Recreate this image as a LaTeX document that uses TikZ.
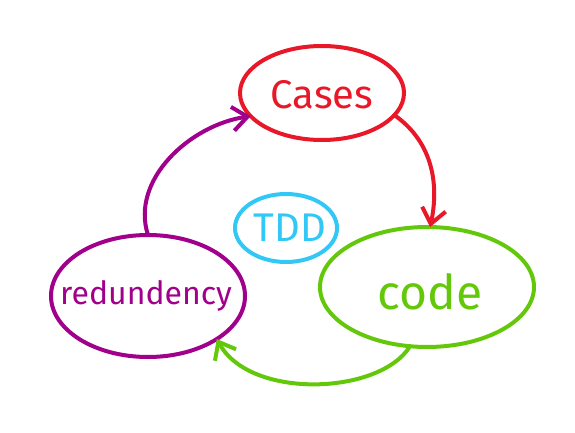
\documentclass[tikz,border=0pt]{standalone}
\usepackage{fontspec}
\setmainfont{Fira Sans}
\usetikzlibrary{arrows.meta,shapes.geometric}
\definecolor{cred}{RGB}{232,24,40}
\definecolor{cgreen}{RGB}{100,200,10}
\definecolor{cpurple}{RGB}{160,0,140}
\definecolor{ccyan}{RGB}{50,200,245}
\tikzset{
  blob/.style={draw, ellipse, line width=4pt, inner sep=0pt, outer sep=0pt},
  flow/.style={line width=4pt, line cap=round, line join=round, -{Straight Barb[length=15pt,width=24pt,line width=4pt]}},
  lbl/.style={font=\fontsize{#1}{#1}\selectfont},
}
\begin{document}
\begin{tikzpicture}[x=1pt,y=-1pt]
\useasboundingbox (0,0) rectangle (575,433);
\node[blob, cred, minimum width=164pt, minimum height=94pt] (cases) at (322,93) {};
\node[blob, ccyan, minimum width=102pt, minimum height=68pt] (tdd) at (286,228) {};
\node[blob, cgreen, minimum width=214pt, minimum height=120pt] (code) at (427,287) {};
\node[blob, cpurple, minimum width=194pt, minimum height=122pt] (red) at (148,296) {};
\node[lbl=40, text=cred] (casest) at ([yshift=-2pt]cases.center) {Cases};
\node[lbl=40, text=ccyan] (tddt) at ([xshift=4pt]tdd.center) {TDD};
\node[lbl=48, text=cgreen] (codet) at ([xshift=3pt,yshift=-5pt]code.center) {code};
\node[lbl=32, text=cpurple] (redt) at ([xshift=-2pt]red.center) {redundency};
\draw[flow, cred] (cases.-17) .. controls (430,140) and (440,180) .. (code.87);
\draw[flow, cgreen] (code.-106) .. controls (380,395) and (250,400) .. (red.-32);
\draw[flow, cpurple] (red.90) .. controls (130,180) and (190,125) .. (cases.198);
\end{tikzpicture}
\end{document}
